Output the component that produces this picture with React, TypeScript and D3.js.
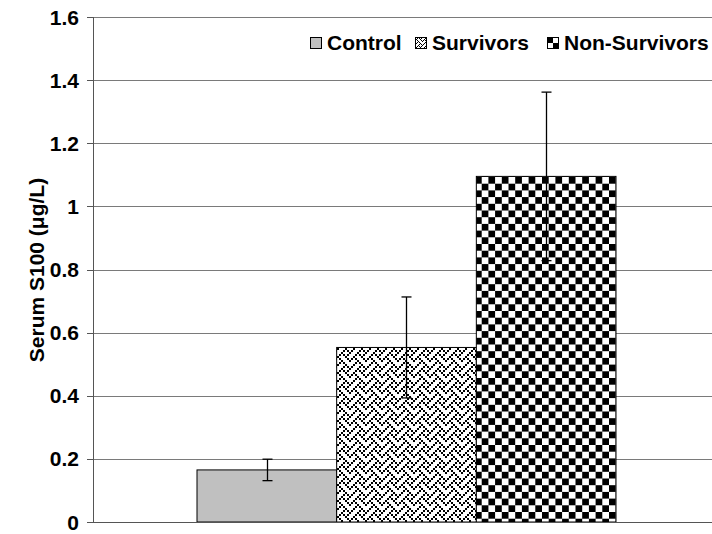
import React from "react";
import * as d3 from "d3";

const groups = ["Control", "Survivors", "Non-Survivors"];
const means = [0.165, 0.553, 1.095];
const errors = [0.034, 0.16, 0.267];
const yTicks = [0, 0.2, 0.4, 0.6, 0.8, 1, 1.2, 1.4, 1.6];

const W = 712;
const H = 534;
const plot = { left: 93, right: 712, top: 17, bottom: 522 };

// GDI+ style 8x8 hatch bitmap (weave)
const weaveBits = [0x11, 0x2a, 0x44, 0xa2, 0x11, 0x28, 0x44, 0x8a];

export default function App() {
  const y = d3.scaleLinear().domain([0, 1.6]).range([plot.bottom, plot.top]);
  const x = d3.scaleBand<string>().domain(groups).range([197, 616]).padding(0);
  const fills = ["#c0c0c0", "url(#weave)", "url(#checker)"];
  const font = "'Liberation Sans', Arial, sans-serif";
  const s = 2;
  const fs = 21;

  const weaveCells: { cx: number; cy: number }[] = [];
  weaveBits.forEach((b, r) => {
    for (let c = 0; c < 8; c++) if (b & (0x80 >> c)) weaveCells.push({ cx: c, cy: r });
  });

  const legendItems = [
    { label: "Control", sx: 310, tx: 327, fill: "#c0c0c0" },
    { label: "Survivors", sx: 415, tx: 432, fill: "url(#weaveSmall)" },
    { label: "Non-Survivors", sx: 547, tx: 564, fill: "url(#checkSmall)" },
  ];

  return (
    <svg width={W} height={H} style={{ position: "absolute", left: 0, top: 0 }} fontFamily={font}>
      <defs>
        <pattern id="weave" patternUnits="userSpaceOnUse" width={8 * s} height={8 * s} x={335} y={0}>
          <rect width={8 * s} height={8 * s} fill="#fff" />
          {weaveCells.map((c, i) => (
            <rect key={i} x={c.cx * s} y={c.cy * s} width={s} height={s} fill="#000" />
          ))}
        </pattern>
        <pattern id="weaveSmall" patternUnits="userSpaceOnUse" width={8} height={8} x={415} y={37}>
          <rect width={8} height={8} fill="#fff" />
          {weaveCells.map((c, i) => (
            <rect key={i} x={c.cx} y={c.cy} width={1} height={1} fill="#000" />
          ))}
        </pattern>
        <pattern id="checker" patternUnits="userSpaceOnUse" width={13.4} height={13.4} x={475} y={177}>
          <rect width={13.4} height={13.4} fill="#fff" />
          <rect x={0} y={0} width={6.7} height={6.7} fill="#000" />
          <rect x={6.7} y={6.7} width={6.7} height={6.7} fill="#000" />
        </pattern>
        <pattern id="checkSmall" patternUnits="userSpaceOnUse" width={12} height={12} x={547} y={37}>
          <rect width={12} height={12} fill="#000" />
          <rect x={6} y={0} width={6} height={6} fill="#fff" />
          <rect x={0} y={6} width={6} height={6} fill="#fff" />
        </pattern>
      </defs>

      {/* gridlines */}
      {yTicks.slice(1).map((t) => (
        <line key={"g" + t} x1={plot.left} x2={plot.right} y1={Math.round(y(t)) + 0.5} y2={Math.round(y(t)) + 0.5} stroke="#7a7a7a" strokeWidth={1} />
      ))}

      {/* bars */}
      {groups.map((g, i) => (
        <rect key={g} x={x(g)!} y={y(means[i])} width={x.bandwidth()} height={plot.bottom - y(means[i])} fill={fills[i]} stroke="#000" strokeWidth={1} />
      ))}

      {/* error bars */}
      {groups.map((g, i) => {
        const cx = Math.round(x(g)! + x.bandwidth() / 2) + 0.5;
        const y1 = y(means[i] + errors[i]);
        const y2 = y(means[i] - errors[i]);
        return (
          <g key={"e" + g} stroke="#000" strokeWidth={1.3}>
            <line x1={cx} x2={cx} y1={y1} y2={y2} />
            <line x1={cx - 5} x2={cx + 5} y1={y1} y2={y1} />
            <line x1={cx - 5} x2={cx + 5} y1={y2} y2={y2} />
          </g>
        );
      })}

      {/* axes */}
      <line x1={plot.left + 0.5} x2={plot.left + 0.5} y1={plot.top} y2={plot.bottom} stroke="#555" />
      <line x1={plot.left - 6} x2={plot.right} y1={plot.bottom + 0.5} y2={plot.bottom + 0.5} stroke="#555" />
      {yTicks.map((t) => (
        <g key={"t" + t}>
          <line x1={plot.left - 6} x2={plot.left} y1={Math.round(y(t)) + 0.5} y2={Math.round(y(t)) + 0.5} stroke="#555" />
          <text x={79} y={y(t)} dy="0.36em" textAnchor="end" fontSize={fs} fontWeight="bold">
            {String(t)}
          </text>
        </g>
      ))}

      <text transform={`translate(44, 270) rotate(-90)`} textAnchor="middle" fontSize={fs} fontWeight="bold">
        Serum S100 (μg/L)
      </text>

      {/* legend */}
      {legendItems.map((it) => (
        <g key={it.label}>
          <rect x={it.sx + 0.5} y={37.5} width={11} height={11} fill={it.fill} stroke="#000" />
          <text x={it.tx} y={50} fontSize={fs} fontWeight="bold">
            {it.label}
          </text>
        </g>
      ))}
    </svg>
  );
}
